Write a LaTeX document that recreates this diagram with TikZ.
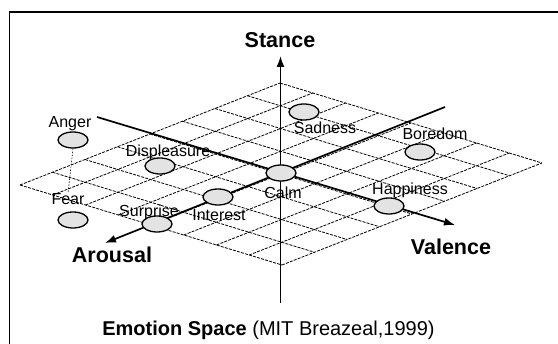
\documentclass[tikz,border=0pt]{standalone}
\usepackage{fontspec}
\setmainfont{Liberation Sans}
\usetikzlibrary{arrows.meta,calc,shapes.geometric}
\begin{document}
\begin{tikzpicture}[x=1pt,y=-1pt,
  gridline/.style={line width=0.8pt,dash pattern=on 3pt off 1.2pt},
  axisline/.style={line width=1.7pt,-{Latex[length=11pt,width=8pt]}},
  emo/.style={ellipse,draw=black,line width=1.3pt,fill=gray!22,minimum width=30pt,minimum height=16pt,inner sep=0pt},
  emolabel/.style={font=\fontsize{16}{16}\selectfont,inner sep=0pt},
  axislabel/.style={font=\fontsize{21.5}{21.5}\selectfont\bfseries,inner sep=0pt}]
\useasboundingbox (0,0) rectangle (558,344);
% frame
\draw[line width=1.3pt] (9.5,344) -- (9.5,12) -- (558,12);
% grid
\coordinate (L) at (20,185);
\foreach \i in {0,...,8}{
  \draw[gridline] ($(L)+\i*(32.5,-12.75)$) -- ++(262,80);
  \draw[gridline] ($(L)+\i*(32.75,10)$) -- ++(260,-102);
}
% axes
\coordinate (Cc) at (280.5,173);
\coordinate (vb) at (280.5,303);
\coordinate (vt) at (280.5,56);
\coordinate (va) at (97,117);
\coordinate (vz) at (455,225);
\coordinate (aa) at (445,107);
\coordinate (az) at (105,243);
\draw[axisline] (vb) -- (vt);
\draw[axisline] (va) -- (vz);
\draw[axisline] (aa) -- (az);
% labels of axes
\node[axislabel] (stance) at (280,40) {Stance};
\node[axislabel] (arousal) at (112,255) {Arousal};
\node[axislabel] (valence) at (451,247) {Valence};
% emotions
\node[emo] (anger) at (73,140) {};
\node[emo] (fear) at (73,220) {};
\node[emo] (displeasure) at (160,166) {};
\node[emo] (surprise) at (157,224) {};
\node[emo] (interest) at (218,197) {};
\node[emo] (calm) at (281,173) {};
\node[emo] (sadness) at (304,112) {};
\node[emo] (boredom) at (420,152) {};
\node[emo] (happiness) at (389,206) {};
\node[emolabel] (angerl) at (70,124) {Anger};
\node[emolabel] (fearl) at (68,199) {Fear};
\node[emolabel] (displeasurel) at (168,152) {Displeasure};
\node[emolabel] (surprisel) at (149,212) {Surprise};
\node[emolabel] (interestl) at (219,215) {Interest};
\node[emolabel] (calml) at (283,193) {Calm};
\node[emolabel] (sadnessl) at (325,128) {Sadness};
\node[emolabel] (boredoml) at (435,134) {Boredom};
\node[emolabel] (happinessl) at (410,190) {Happiness};
\draw[line width=0.6pt,dash pattern=on 1.5pt off 1.5pt] (anger.south) -- (fearl.north);
% caption
\node[inner sep=0pt,font=\fontsize{20}{20}\selectfont] (caption) at (268.5,330) {\textbf{Emotion Space} (MIT Breazeal,1999)};
\end{tikzpicture}
\end{document}
